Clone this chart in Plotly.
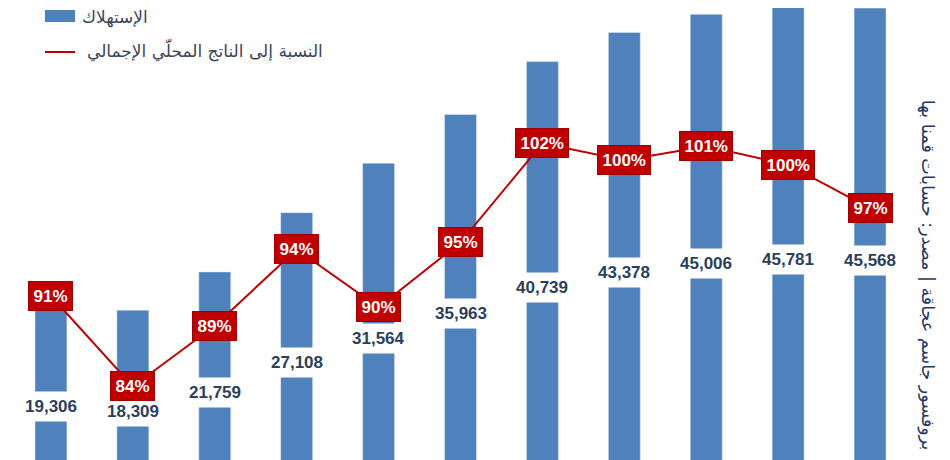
import plotly.graph_objects as go

# consumption (bars) and ratio to GDP in % (line)
years_idx = list(range(11))
consumption = [19306, 18309, 21759, 27108, 31564, 35963, 40739, 43378, 45006, 45781, 45568]
ratio_gdp = [90.8, 84.4, 88.7, 94.1, 90.0, 94.6, 101.6, 100.4, 101.4, 100.1, 97.0]

bar_name = "الإستهلاك"
line_name = "النسبة إلى الناتج المحلّي الإجمالي"
source_txt = "بروفسور جاسم عجاقة | مصدر: حسابات قمنا بها"

BLUE = "#4F81BD"
RED = "#C00000"
NAVY = "#2B3F5C"
LEG_TXT = "#3A4656"

W, H = 950, 460
ML, MR = 2, 47
PW = W - ML - MR


def px(x):
    # pixel in figure -> paper x
    return (x - ML) / PW


def py(y):
    # pixel in figure -> paper y (plot spans whole height)
    return 1 - y / H


fig = go.Figure()

fig.add_trace(go.Bar(x=years_idx, y=consumption, name=bar_name,
                     marker_color=BLUE))

fig.add_trace(go.Scatter(x=years_idx, y=ratio_gdp, yaxis="y2",
                         mode="lines", name=line_name,
                         line=dict(color=RED, width=2)))

# value labels in the middle of each bar, on a white box
for x, v in zip(years_idx, consumption):
    fig.add_annotation(x=x, y=v / 2, xref="x", yref="y",
                       text=f"<b>{v:,}</b>", showarrow=False,
                       bgcolor="white", borderpad=5,
                       font=dict(family="Liberation Sans", size=17, color=NAVY))

# percentage boxes on the line
for x, r in zip(years_idx, ratio_gdp):
    fig.add_annotation(x=x, y=r, xref="x", yref="y2",
                       text=f"<b>{round(r)}%</b>", showarrow=False,
                       bgcolor=RED, bordercolor="#9E0000", borderwidth=1,
                       borderpad=4.5,
                       font=dict(family="Liberation Sans", size=17, color="white"))

# legend drawn by hand (wide blue swatch like the original)
fig.add_shape(type="rect", xref="paper", yref="paper",
              x0=px(37), x1=px(67), y0=py(14), y1=py(2),
              fillcolor=BLUE, line_width=0)
fig.add_shape(type="line", xref="paper", yref="paper",
              x0=px(37), x1=px(67), y0=py(44), y1=py(44),
              line=dict(color=RED, width=2))
fig.add_annotation(x=px(72), y=py(9), xref="paper", yref="paper",
                   xanchor="left", yanchor="middle", showarrow=False,
                   text=bar_name,
                   font=dict(family="DejaVu Sans", size=17, color=LEG_TXT))
fig.add_annotation(x=px(77), y=py(42), xref="paper", yref="paper",
                   xanchor="left", yanchor="middle", showarrow=False,
                   text=line_name,
                   font=dict(family="DejaVu Sans", size=17, color=LEG_TXT))

# source, rotated on the right side
fig.add_annotation(x=1.0, y=0.421, xref="paper", yref="paper",
                   xanchor="left", yanchor="middle", xshift=4,
                   text=source_txt, textangle=90, showarrow=False,
                   font=dict(family="DejaVu Sans", size=17.5, color="#1F3864"))

fig.update_layout(
    width=W, height=H,
    margin=dict(l=ML, r=MR, t=0, b=0),
    plot_bgcolor="white", paper_bgcolor="white",
    bargap=0.61,
    showlegend=False,
    xaxis=dict(range=[-0.5, 10.5], visible=False),
    yaxis=dict(range=[4061, 45578], visible=False),
    yaxis2=dict(range=[78.63, 111.18], overlaying="y", side="right", visible=False),
)

fig.write_html("out.html")
